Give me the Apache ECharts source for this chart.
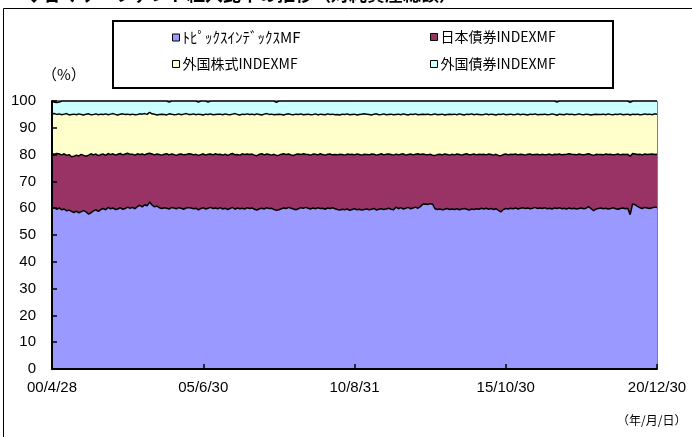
<!DOCTYPE html>
<html><head><meta charset="utf-8">
<script src="https://cdn.jsdelivr.net/npm/echarts@6/dist/echarts.min.js"></script>
<style>html,body{margin:0;padding:0;background:#fff}#c{width:692px;height:437px}</style>
</head><body><div id="c"></div>
<script>
// Series names
const seriesNames = ['ﾄﾋﾟｯｸｽｲﾝﾃﾞｯｸｽMF', '日本債券INDEXMF', '外国株式INDEXMF', '外国債券INDEXMF'];
// X tick labels (shown every 62 months)
const tickLabels = ['00/4/28', '05/6/30', '10/8/31', '15/10/30', '20/12/30'];
const yTicks = [0, 10, 20, 30, 40, 50, 60, 70, 80, 90, 100];

// Monthly categories: 2000/4 .. 2020/12 (249 months)
const months = [];
for (let y = 2000; y <= 2020; y++) {
  for (let m = (y === 2000 ? 4 : 1); m <= 12; m++) months.push(String(y % 100).padStart(2, '0') + '/' + m);
}

// トピックスインデックスMF (%)
const topix = [
59.8,60.2,59.6,60.1,59.4,59.7,59.0,59.3,58.8,
58.4,58.9,58.3,58.7,59.1,58.6,57.8,58.3,59.0,59.4,58.8,59.5,
59.9,59.4,60.3,59.8,60.1,59.5,59.7,60.2,59.6,59.9,60.4,60.0,
60.3,59.8,60.6,61.1,60.5,61.3,60.9,62.3,61.2,60.5,60.8,60.2,
59.9,60.2,60.0,59.7,60.3,60.1,59.8,60.2,60.0,59.6,60.1,60.3,
60.1,59.8,60.0,59.4,59.9,60.2,59.7,60.0,60.3,59.9,60.1,59.8,
60.2,59.7,60.0,59.5,59.9,60.3,59.6,60.1,59.8,60.0,59.7,60.2,
59.9,60.1,59.6,59.3,59.8,60.0,59.7,60.2,59.9,60.0,59.5,59.2,
59.4,59.8,60.1,59.9,60.3,60.0,59.7,59.4,59.8,60.2,60.0,60.3,
60.0,59.7,60.1,59.8,60.2,59.9,60.0,59.6,60.1,59.9,60.2,59.8,
59.5,59.3,59.6,59.4,59.7,59.2,59.5,59.8,59.4,59.6,59.3,59.5,
59.7,59.4,59.6,59.9,59.3,59.6,59.8,59.5,59.7,60.0,59.6,59.4,
60.4,59.8,60.2,59.7,60.0,60.3,59.8,60.1,60.4,60.0,60.6,61.5,
61.6,61.4,61.7,61.5,59.8,59.5,59.7,59.4,59.6,59.9,59.5,59.7,
59.5,59.8,59.4,59.7,59.9,59.6,59.3,59.7,59.5,59.8,59.6,60.0,
59.7,60.0,59.6,59.9,59.5,59.8,59.2,58.6,59.5,59.9,59.7,60.0,
59.8,60.1,59.7,60.0,60.2,59.9,60.1,59.8,60.0,60.3,59.9,60.1,
59.9,60.2,59.8,60.0,59.7,60.1,59.9,60.2,59.8,60.0,59.7,60.1,
59.8,60.0,59.7,59.9,60.1,59.8,60.0,60.6,59.8,59.1,59.7,59.9,
60.1,59.8,60.0,59.7,59.9,60.2,59.8,59.6,59.9,60.1,59.8,60.0,
57.6,61.6,61.3,60.7,60.2,59.9,60.3,60.1,59.9,60.2,60.4,60.3
];
// 日本債券INDEXMF (%)
const jpBond = [
20.5,19.9,20.8,20.1,20.5,20.6,20.7,20.7,20.4,
21.0,20.9,21.2,21.4,20.6,20.8,22.0,22.0,20.9,20.8,20.8,20.5,
20.3,20.3,20.1,20.2,20.2,20.3,20.4,20.2,20.3,20.3,20.1,20.1,
19.8,20.0,19.7,18.9,19.7,18.6,19.4,18.2,19.0,19.4,19.4,19.8,
19.9,19.9,20.3,20.2,19.9,19.9,19.9,19.9,20.2,20.3,19.9,20.0,
20.1,20.1,20.1,20.3,20.1,20.1,20.1,20.1,19.9,20.0,20.2,20.2,
19.9,20.1,20.2,20.2,20.2,20.1,20.3,19.9,20.0,20.3,20.3,20.0,
20.1,20.1,20.2,20.3,20.3,20.3,20.2,20.0,20.1,19.8,20.6,20.5,
20.4,20.3,20.2,20.1,19.9,19.9,20.0,20.7,20.4,19.8,20.3,19.8,
20.0,20.1,20.1,20.3,19.7,20.4,20.0,20.2,20.0,20.3,19.7,20.2,
20.4,20.8,20.4,20.4,20.5,20.8,20.6,20.1,20.8,20.4,20.5,20.6,
20.3,20.5,20.6,20.2,20.5,20.4,20.5,20.4,20.4,20.2,20.4,20.4,
19.8,20.1,19.9,20.6,19.8,19.7,20.4,19.8,19.7,20.3,19.4,18.7,
18.4,18.5,18.4,18.3,19.9,20.5,20.4,20.5,20.6,20.1,20.3,20.4,
20.4,20.4,20.6,20.1,20.2,20.7,20.6,20.3,20.7,20.1,20.5,20.0,
20.4,19.9,20.6,20.1,20.3,20.3,20.5,21.0,20.5,20.3,20.2,20.1,
20.2,20.1,20.2,20.1,19.8,19.9,20.0,20.4,19.9,19.7,20.2,19.8,
20.2,19.7,20.2,20.2,20.1,20.0,20.1,20.0,20.1,20.0,20.4,20.2,
20.3,20.0,20.2,20.3,19.9,20.1,20.1,19.7,20.2,20.6,20.4,20.1,
19.9,20.1,20.2,20.3,20.2,19.7,20.2,20.6,20.0,20.0,20.2,20.1,
21.8,18.8,18.9,19.3,19.9,20.0,19.9,19.9,20.2,20.0,19.6,19.8
];
// 外国株式INDEXMF (%)
const fgStock = [
14.9,15.2,14.6,15.0,15.0,14.8,15.6,14.8,15.8,
15.7,15.1,15.7,14.9,15.1,15.7,15.4,14.6,15.1,15.0,15.3,15.1,
14.8,15.5,14.5,15.1,15.0,15.2,14.7,14.7,15.3,14.8,14.6,14.8,
15.0,15.1,14.7,15.2,14.9,15.4,14.7,15.3,15.0,15.2,14.6,15.0,
15.3,14.9,14.5,15.3,14.9,14.9,15.3,15.1,14.7,15.2,15.3,14.7,
14.8,15.3,14.8,15.4,15.0,14.5,15.3,14.9,15.0,15.0,14.7,15.1,
15.0,15.1,15.0,15.3,14.8,14.7,15.4,15.0,15.0,14.8,15.0,15.0,
15.0,14.9,15.1,15.6,14.9,14.5,15.2,15.1,15.0,15.3,14.8,15.3,
15.3,14.9,14.5,15.1,15.0,15.1,15.2,15.0,14.8,15.2,14.6,14.9,
15.1,15.1,14.8,15.1,14.9,14.8,15.0,15.1,15.1,14.8,15.2,14.9,
15.1,14.7,15.1,15.2,15.0,14.9,14.9,15.2,14.6,15.0,15.3,15.1,
15.1,15.1,14.6,15.0,15.4,14.9,14.7,15.3,14.8,14.8,15.1,15.1,
14.8,15.2,14.8,14.9,15.2,14.8,14.9,15.1,15.1,14.6,15.0,14.9,
15.0,15.2,14.8,15.2,15.5,14.9,14.9,15.2,14.6,15.0,15.3,14.9,
15.2,14.7,15.2,15.2,14.7,14.8,15.1,15.2,14.7,15.2,14.9,14.9,
14.9,15.3,14.7,15.1,15.2,14.7,15.4,15.4,15.2,14.7,15.1,15.0,
14.9,14.8,15.3,14.8,15.1,15.2,14.7,14.9,15.1,15.2,14.8,15.1,
14.9,15.2,14.9,14.8,15.4,14.9,14.7,14.9,15.1,14.9,15.1,14.7,
15.0,14.9,15.1,15.0,15.0,15.0,15.0,14.7,14.8,15.3,15.0,15.0,
15.0,15.2,14.7,15.2,14.9,15.0,15.1,14.8,15.3,14.8,15.0,15.0,
15.4,14.7,14.8,15.1,14.8,15.1,15.0,15.0,15.0,14.7,15.2,15.0
];
// 外国債券INDEXMF (%)
const fgBond = [
4.8,4.2,4.4,4.4,5.1,4.9,4.7,5.2,5.0,
4.9,5.1,4.8,5.0,5.2,4.9,4.8,5.1,5.0,4.8,5.1,4.9,
5.0,4.8,5.1,4.9,4.7,5.0,5.2,4.9,4.8,5.0,4.9,5.1,
4.9,5.1,5.0,4.8,4.9,4.7,5.0,4.2,4.8,4.9,5.2,5.0,
4.9,5.0,5.2,4.4,4.9,5.1,5.0,4.8,5.1,4.9,4.7,5.0,
5.0,4.8,5.1,4.5,5.0,5.2,4.9,4.6,4.8,5.1,5.0,4.9,
4.9,5.1,4.8,5.0,5.1,4.9,4.7,5.0,5.2,4.9,5.0,4.8,
5.0,4.9,5.1,4.8,5.0,5.2,4.9,4.7,5.0,4.9,5.1,4.5,
4.9,5.0,5.2,4.9,4.8,5.0,5.1,4.9,5.0,4.8,5.1,5.0,
4.9,5.1,5.0,4.8,5.2,4.9,5.0,5.1,4.8,5.0,4.9,5.1,
5.0,5.2,4.9,5.0,4.8,5.1,5.0,4.9,5.2,5.0,4.9,4.8,
4.9,5.0,5.2,4.9,4.8,5.1,5.0,4.8,5.1,5.0,4.9,5.1,
5.0,4.9,5.1,4.8,5.0,5.2,4.9,5.0,4.8,5.1,5.0,4.9,
5.0,4.9,5.1,5.0,4.8,5.1,5.0,4.9,5.2,5.0,4.9,5.0,
4.9,5.1,4.8,5.0,5.2,4.9,5.0,4.8,5.1,4.9,5.0,5.1,
5.0,4.8,5.1,4.9,5.0,5.2,4.9,5.0,4.8,5.1,5.0,4.9,
5.1,5.0,4.8,5.1,4.9,5.0,5.2,4.9,5.0,4.8,5.1,5.0,
5.0,4.9,5.1,5.0,4.8,5.0,4.9,4.9,5.0,5.1,4.8,5.0,
4.9,5.1,5.0,4.8,5.0,5.1,4.9,5.0,5.2,5.0,4.9,5.0,
5.0,4.9,5.1,4.8,5.0,5.1,4.9,5.0,4.8,5.1,5.0,4.9,
4.7,4.9,5.0,4.9,5.1,5.0,4.8,5.0,4.9,5.1,4.8,4.9
];

const values = [topix, jpBond, fgStock, fgBond];
const fills = ['#9999ff', '#993366', '#ffffcc', '#ccffff'];
const font = "'Liberation Sans', 'Noto Sans CJK JP', sans-serif";
const jpFont = "'Noto Sans CJK JP', sans-serif";

const legendPos = [[167, 25], [425, 25], [167, 52], [425, 52]];
const legendSize = [15, 14, 14, 14];

const chart = echarts.init(document.getElementById('c'), null, {renderer: 'canvas'});
chart.setOption({
  animation: false,
  backgroundColor: '#fff',
  title: {
    text: '◆各マザーファンド組入比率の推移（対純資産総額）',
    left: 20, top: -20,
    textStyle: {fontFamily: jpFont, fontSize: 18, fontWeight: 'bold', color: '#000'}
  },
  legend: seriesNames.map((n, i) => ({
    data: [n], left: legendPos[i][0], top: legendPos[i][1],
    icon: 'rect', itemWidth: 7, itemHeight: 7, itemGap: 4,
    itemStyle: {borderColor: '#000', borderWidth: 1},
    textStyle: {fontFamily: jpFont, fontSize: legendSize[i], color: '#000', padding: [0, 0, 0, -2]}
  })),
  graphic: [
    {type: 'rect', shape: {x: 3.5, y: 8.5, width: 720, height: 460}, style: {fill: null, stroke: '#000', lineWidth: 1}, z: -1, silent: true},
    {type: 'rect', shape: {x: 113, y: 21, width: 500, height: 67}, style: {fill: null, stroke: '#000', lineWidth: 2}, silent: true},
    {type: 'text', left: 42, top: 67, style: {text: '（%）', font: "15px 'Noto Sans CJK JP'", fill: '#000'}},
    {type: 'text', left: 617, top: 414, style: {text: '（年/月/日）', font: "12px 'Noto Sans CJK JP'", fill: '#000'}}
  ],
  grid: {left: 52, right: 35, top: 101, bottom: 68, show: true, borderColor: '#000', borderWidth: 1},
  xAxis: {
    type: 'category', data: months, boundaryGap: false, z: 10,
    axisLine: {lineStyle: {color: '#000', width: 2}},
    axisTick: {inside: true, interval: 61, length: 5, lineStyle: {color: '#000', width: 1.5}},
    axisLabel: {interval: 61, margin: 11, fontFamily: font, fontSize: 15, color: '#000',
      formatter: (v, i) => tickLabels[Math.round(i / 62)]},
    splitLine: {show: false}
  },
  yAxis: {
    type: 'value', min: yTicks[0], max: yTicks[yTicks.length - 1], interval: 10, z: 10,
    axisLine: {show: true, lineStyle: {color: '#000', width: 2}},
    axisTick: {show: true, inside: true, length: 5, lineStyle: {color: '#000', width: 1.5}},
    axisLabel: {margin: 16, fontFamily: font, fontSize: 15, color: '#000'},
    splitLine: {show: false}
  },
  series: values.map((d, i) => ({
    name: seriesNames[i], type: 'line', stack: 'total', data: d,
    symbol: 'none', z: 8 - i, clip: true,
    itemStyle: {color: fills[i]},
    lineStyle: {color: '#000', width: 1.5},
    areaStyle: {color: fills[i], opacity: 1}
  }))
});
</script></body></html>
